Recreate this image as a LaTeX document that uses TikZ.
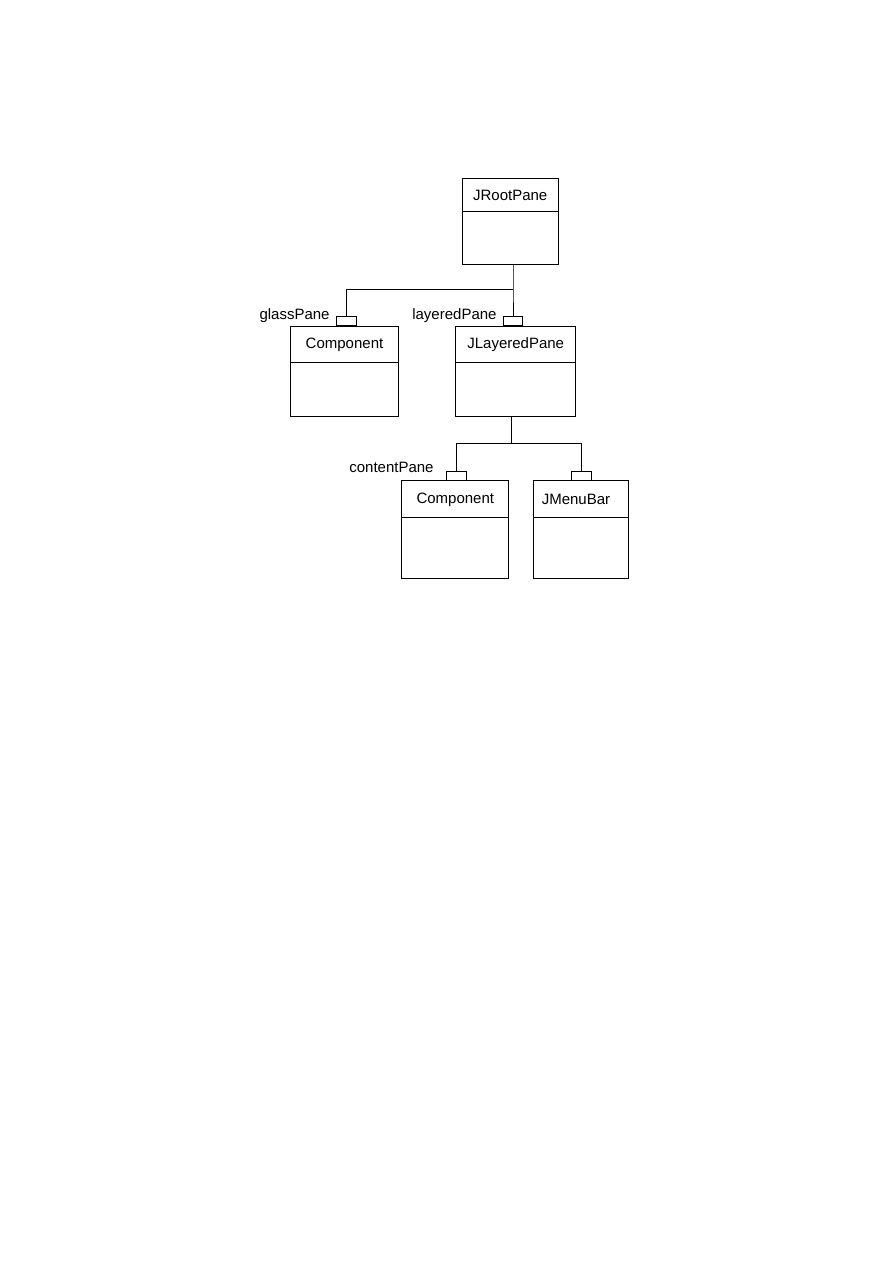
\documentclass[tikz,border=0pt]{standalone}
\usepackage{fontspec}
\setmainfont{Liberation Sans}
\begin{document}
\begin{tikzpicture}[x=0.6667pt,y=-0.6667pt,
  line width=0.6pt,
  cls/.style={draw, rectangle, inner sep=0pt},
  qual/.style={draw, rectangle, inner sep=0pt, minimum width=13pt, minimum height=6.2pt},
  title/.style={font=\fontsize{10}{12}\selectfont, inner sep=0pt},
  role/.style={font=\fontsize{10}{12}\selectfont, inner sep=0pt, anchor=base east}]
\useasboundingbox (0,0) rectangle (893,1263);
% boxes (pixel coords)
\node[cls, minimum width=64pt, minimum height=57.1pt] (root) at (510.2,221.2) {};
\node[cls, minimum width=71.7pt, minimum height=60pt] (comp1) at (344.5,371) {};
\node[cls, minimum width=80pt, minimum height=60pt] (lay) at (515.7,371) {};
\node[cls, minimum width=71.5pt, minimum height=65.1pt] (comp2) at (455.3,529.5) {};
\node[cls, minimum width=63.6pt, minimum height=65.1pt] (menu) at (581,529.5) {};
% dividers
\draw (root.west |- 0,211.7) -- (root.east |- 0,211.7);
\draw (comp1.west |- 0,362.3) -- (comp1.east |- 0,362.3);
\draw (lay.west |- 0,362.3) -- (lay.east |- 0,362.3);
\draw (comp2.west |- 0,517.3) -- (comp2.east |- 0,517.3);
\draw (menu.west |- 0,517.3) -- (menu.east |- 0,517.3);
% titles
\node[title] (t1) at (510.2,195.5) {JRootPane};
\node[title] (t2) at (344.5,344.5) {Component};
\node[title] (t3) at (515.7,344.5) {JLayeredPane};
\node[title] (t4) at (455.3,499.5) {Component};
\node[title] (t5) at (576,499.5) {JMenuBar};
% qualifier boxes
\node[qual, anchor=south] (q1) at (346.5,326) {};
\node[qual, anchor=south] (q2) at (513,326) {};
\node[qual, anchor=south] (q3) at (456.3,480.7) {};
\node[qual, anchor=south] (q4) at (581.3,480.7) {};
% roles
\node[role] (r1) at (330,319.5) {glassPane};
\node[role] (r2) at (497,319.5) {layeredPane};
\node[role] (r3) at (434,472.5) {contentPane};
% connectors
\coordinate (j1) at (513,289.3);
\coordinate (j2) at (511,443.3);
\draw (root.south -| j1) -- (j1) -- (q2.north);
\draw (j1) -| (q1.north);
\draw (lay.south -| j2) -- (j2);
\draw (q3.north) |- (j2) -| (q4.north);
\end{tikzpicture}
\end{document}
